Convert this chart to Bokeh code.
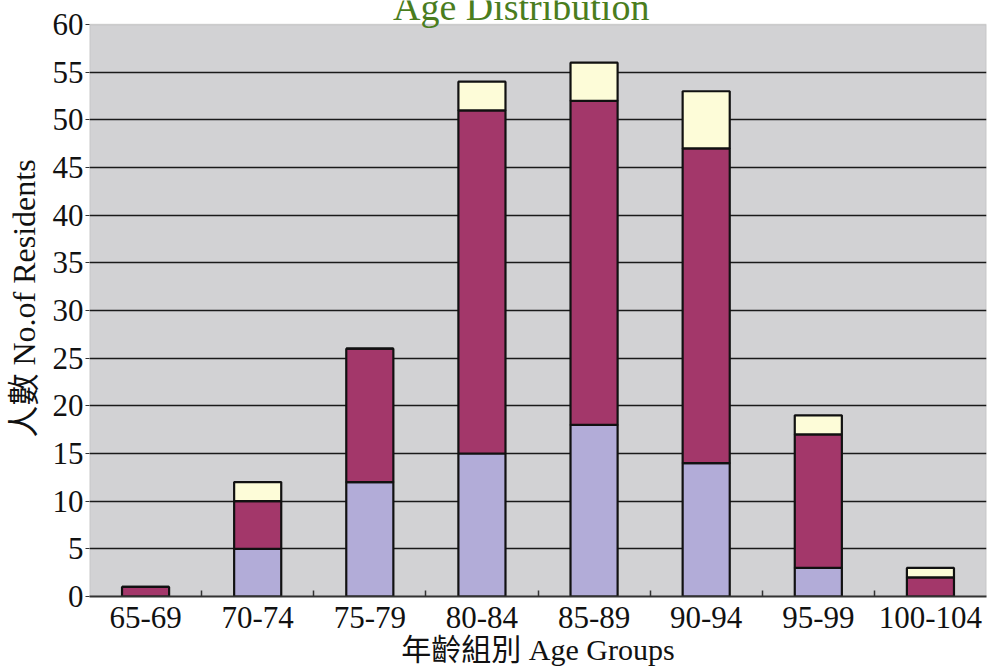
from bokeh.plotting import figure
from bokeh.models import ColumnDataSource, Range1d, FixedTicker, Label, BoxAnnotation
from bokeh.embed import file_html
from bokeh.resources import INLINE

groups = ["65-69", "70-74", "75-79", "80-84", "85-89", "90-94", "95-99", "100-104"]
lavender = [0, 5, 12, 15, 18, 14, 3, 0]
maroon = [1, 5, 14, 36, 34, 33, 14, 2]
cream = [0, 2, 0, 3, 4, 6, 2, 1]
y_ticks = [0, 5, 10, 15, 20, 25, 30, 35, 40, 45, 50, 55, 60]
grid_ticks = [5, 10, 15, 20, 25, 30, 35, 40, 45, 50, 55]

SERIF = "Liberation Serif, 'Noto Sans CJK TC'"

xs = [i + 0.5 for i in range(len(groups))]
src = ColumnDataSource(dict(x=xs, lavender=lavender, maroon=maroon, cream=cream))

# frame reaches the canvas top; the gray plot area stops at 60 so the title can sit above it
p = figure(width=992, height=671, x_range=Range1d(0, len(groups)), y_range=Range1d(0, 62.52),
           output_backend="svg", toolbar_location=None,
           min_border_left=89, min_border_right=6, min_border_top=0, min_border_bottom=75)

p.background_fill_color = "white"
p.border_fill_color = "white"
p.outline_line_color = None

plot_area = BoxAnnotation(bottom=0, top=60, fill_color="#d2d2d4", fill_alpha=1.0,
                          line_color="#8a8a8a", line_width=1.5, level="image")
p.add_layout(plot_area)

p.vbar_stack(["lavender", "maroon", "cream"], x="x", width=0.42, source=src,
             fill_color=["#b2acd8", "#a3376a", "#fdfcd8"], line_color="#111111", line_width=2.2)

# x axis
p.xaxis.ticker = FixedTicker(ticks=xs, minor_ticks=list(range(1, len(groups))))
p.xaxis.major_label_overrides = {x: g for x, g in zip(xs, groups)}
p.xaxis.major_tick_line_color = None
p.xaxis.minor_tick_in = 6
p.xaxis.minor_tick_out = 0
p.xaxis.minor_tick_line_color = "#333333"
p.xaxis.minor_tick_line_width = 1.5
p.xaxis.axis_line_color = "#333333"
p.xaxis.axis_line_width = 2
p.xaxis.major_label_text_font = SERIF
p.xaxis.major_label_text_font_size = "31px"
p.xaxis.major_label_text_color = "#111111"
p.xaxis.major_label_standoff = 4
p.xaxis.axis_label = "年齡組別 Age Groups"
p.xaxis.axis_label_text_font = SERIF
p.xaxis.axis_label_text_font_size = "30px"
p.xaxis.axis_label_text_font_style = "normal"
p.xaxis.axis_label_text_color = "#111111"
p.xaxis.axis_label_standoff = 2

# y axis
p.yaxis.ticker = FixedTicker(ticks=y_ticks)
p.yaxis.minor_tick_line_color = None
p.yaxis.major_tick_in = 0
p.yaxis.major_tick_out = 4
p.yaxis.major_tick_line_color = "#333333"
p.yaxis.axis_line_color = None
p.yaxis.major_label_text_font = SERIF
p.yaxis.major_label_text_font_size = "31px"
p.yaxis.major_label_text_color = "#111111"
p.yaxis.major_label_standoff = 2
p.yaxis.axis_label = "人數 No.of Residents"
p.yaxis.axis_label_text_font = SERIF
p.yaxis.axis_label_text_font_size = "32px"
p.yaxis.axis_label_text_font_style = "normal"
p.yaxis.axis_label_text_color = "#111111"
p.yaxis.axis_label_standoff = 8

p.xgrid.grid_line_color = None
p.ygrid.ticker = FixedTicker(ticks=grid_ticks)
p.ygrid.grid_line_color = "#1a1a1a"
p.ygrid.grid_line_width = 1.5

title = Label(x=3.85, y=59.6, text="Age Distribution", text_font=SERIF,
              text_font_size="38px", text_color="#4a7d1e", text_align="center",
              text_baseline="bottom")
p.add_layout(title)

open("out.html", "w").write(file_html(p, INLINE))
